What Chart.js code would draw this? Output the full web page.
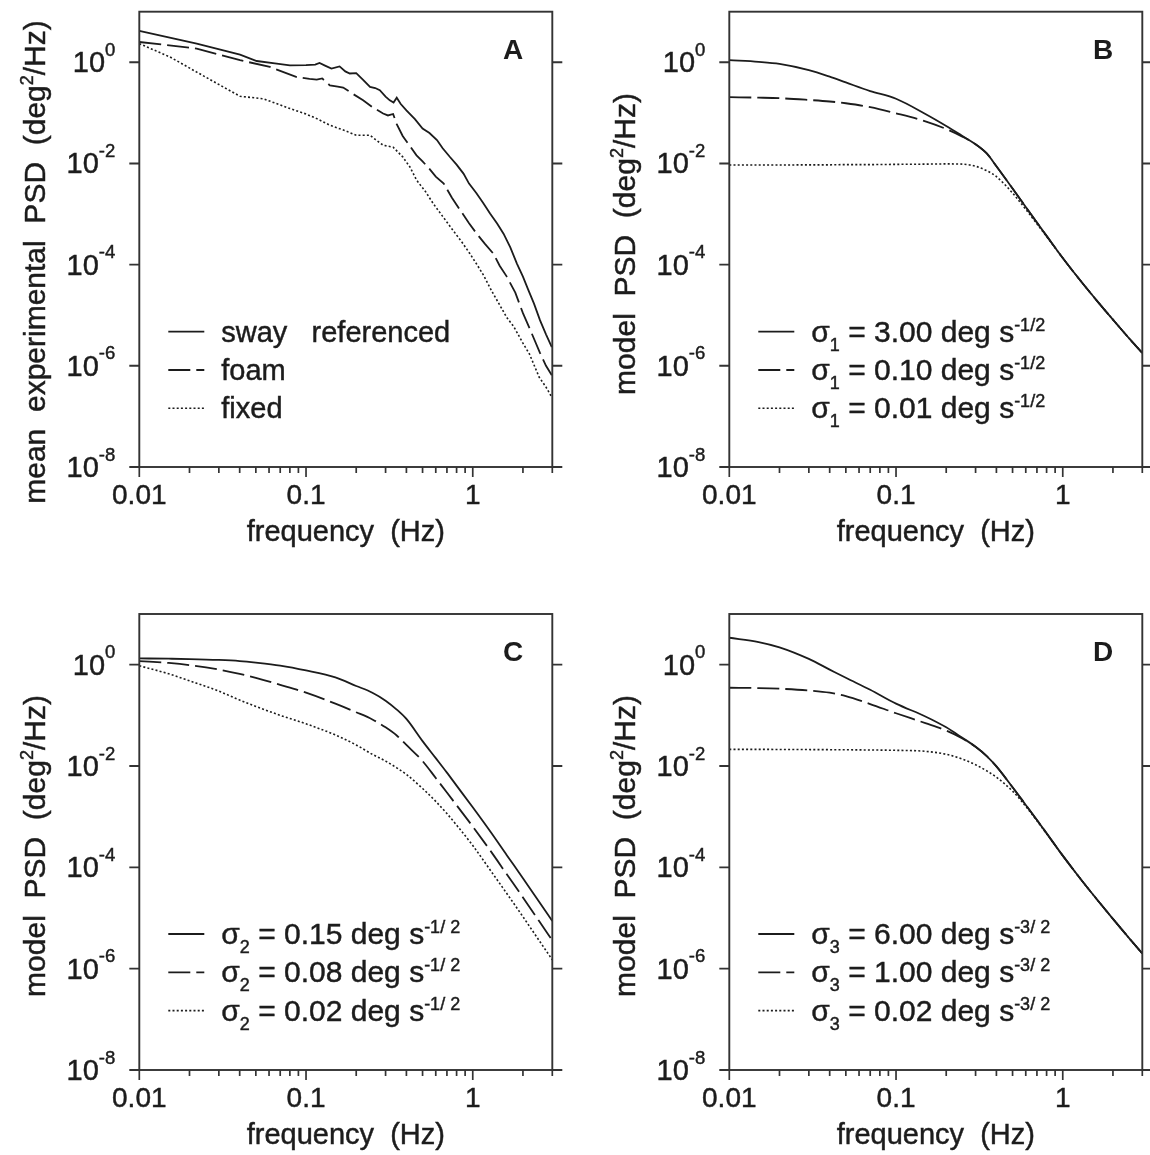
<!DOCTYPE html>
<html>
<head>
<meta charset="utf-8">
<script src="https://cdn.jsdelivr.net/npm/chart.js@4.4.0/dist/chart.umd.min.js"></script>
<style>
  body { margin: 0; background: #fff; }
  #wrap { position: relative; width: 1150px; height: 1155px; background: #fff; }
  #wrap canvas { position: absolute; left: 0; top: 0; }
</style>
</head>
<body>
<div id="wrap">
  <canvas id="chartA" width="1150" height="1155"></canvas>
  <canvas id="chartB" width="1150" height="1155"></canvas>
  <canvas id="chartC" width="1150" height="1155"></canvas>
  <canvas id="chartD" width="1150" height="1155"></canvas>
</div>
<script>
// ---- data ----
// panel A: measured spectra (Hz, deg^2/Hz)
const freqSway = [0.01, 0.0221, 0.0402, 0.0506, 0.065, 0.08, 0.1, 0.1135, 0.1205, 0.13, 0.142, 0.159, 0.172, 0.183, 0.2, 0.22, 0.242, 0.26, 0.277, 0.3, 0.318, 0.335, 0.35, 0.37, 0.4, 0.45, 0.5, 0.55, 0.61, 0.66, 0.73, 0.8, 0.88, 0.95, 1.05, 1.15, 1.27, 1.4, 1.53, 1.68, 1.84, 2.0, 2.15, 2.33, 2.53, 2.75, 2.98];
const psdSway = [4.2, 2.34, 1.42, 1.06, 0.95, 0.87, 0.88, 0.9, 0.97, 0.86, 0.75, 0.83, 0.66, 0.6, 0.61, 0.45, 0.325, 0.31, 0.28, 0.21, 0.177, 0.16, 0.2, 0.15, 0.112, 0.075, 0.049, 0.04, 0.029, 0.02, 0.0134, 0.0095, 0.0063, 0.004, 0.0026, 0.0017, 0.00103, 0.00065, 0.00041, 0.00022, 0.000105, 0.000058, 0.000032, 0.000017, 0.000008, 0.0000042, 0.00000235];
const freqFoam = [0.01, 0.0221, 0.0402, 0.0607, 0.088, 0.105, 0.116, 0.125, 0.139, 0.155, 0.167, 0.19, 0.22, 0.25, 0.29, 0.31, 0.333, 0.35, 0.38, 0.42, 0.46, 0.5, 0.55, 0.6, 0.67, 0.75, 0.84, 0.95, 1.05, 1.18, 1.33, 1.45, 1.6, 1.8, 2.0, 2.25, 2.53, 2.75, 2.98];
const psdFoam = [2.52, 1.87, 1.1, 0.81, 0.51, 0.47, 0.455, 0.48, 0.35, 0.33, 0.316, 0.24, 0.177, 0.13, 0.097, 0.089, 0.095, 0.06, 0.035, 0.022, 0.0145, 0.011, 0.0078, 0.0055, 0.004, 0.0021, 0.0012, 0.00066, 0.00042, 0.00026, 0.000165, 0.000095, 0.000058, 0.000028, 0.000011, 0.0000045, 0.0000018, 0.000001, 0.00000065];
const freqFixed = [0.01, 0.0153, 0.0221, 0.0319, 0.0402, 0.0555, 0.08, 0.1, 0.116, 0.139, 0.17, 0.2, 0.242, 0.26, 0.29, 0.333, 0.38, 0.42, 0.46, 0.52, 0.58, 0.66, 0.76, 0.86, 0.96, 1.06, 1.16, 1.3, 1.45, 1.6, 1.76, 2.0, 2.19, 2.5, 2.75, 2.98];
const psdFixed = [2.34, 1.27, 0.64, 0.325, 0.213, 0.19, 0.122, 0.095, 0.077, 0.057, 0.045, 0.036, 0.036, 0.03, 0.023, 0.021, 0.0135, 0.0085, 0.0047, 0.0028, 0.0016, 0.0009, 0.00048, 0.00028, 0.000166, 0.0001, 0.000062, 0.00003, 0.000016, 0.000009, 0.000006, 0.0000028, 0.0000017, 0.0000006, 0.00000038, 0.00000024];

// panels B-D: model spectra on one frequency grid
const modelFreq = [0.01, 0.015, 0.02, 0.03, 0.04, 0.05, 0.07, 0.1, 0.15, 0.2, 0.25, 0.3, 0.35, 0.4, 0.5, 0.6, 0.7, 0.8, 1, 1.3, 1.6, 2, 2.5, 3];
const psdB1 = [1.1, 1.02, 0.93, 0.7, 0.52, 0.4, 0.27, 0.19, 0.095, 0.055, 0.035, 0.024, 0.0158, 0.0088, 0.0032, 0.00138, 0.00068, 0.00037, 0.000135, 0.0000448, 0.0000195, 0.0000082, 0.0000035, 0.0000018];
const psdB2 = [0.205, 0.2, 0.195, 0.18, 0.168, 0.155, 0.13, 0.098, 0.068, 0.048, 0.034, 0.024, 0.0158, 0.0088, 0.0032, 0.00138, 0.00068, 0.00037, 0.000135, 0.0000448, 0.0000195, 0.0000082, 0.0000035, 0.0000018];
const psdB3 = [0.0093, 0.0093, 0.0093, 0.0094, 0.0094, 0.0095, 0.0095, 0.0096, 0.0097, 0.0098, 0.0097, 0.0088, 0.0072, 0.0055, 0.0026, 0.00124, 0.00064, 0.00036, 0.000135, 0.0000448, 0.0000195, 0.0000082, 0.0000035, 0.0000018];
const psdC1 = [1.33, 1.31, 1.29, 1.24, 1.18, 1.1, 0.96, 0.77, 0.56, 0.38, 0.28, 0.195, 0.13, 0.085, 0.031, 0.0143, 0.0074, 0.0041, 0.00153, 0.000465, 0.000174, 0.000061, 0.0000209, 0.0000087];
const psdC2 = [1.18, 1.08, 0.98, 0.8, 0.66, 0.55, 0.4, 0.28, 0.17, 0.115, 0.083, 0.058, 0.04, 0.026, 0.0125, 0.0058, 0.003, 0.00168, 0.00064, 0.000195, 0.000073, 0.0000255, 0.0000087, 0.0000036];
const psdC3 = [0.95, 0.66, 0.48, 0.3, 0.2, 0.15, 0.1, 0.068, 0.041, 0.026, 0.017, 0.0125, 0.0092, 0.0068, 0.0036, 0.002, 0.00115, 0.00068, 0.00027, 0.00008, 0.0000305, 0.0000106, 0.0000036, 0.0000015];
const psdD1 = [3.4, 2.8, 2.2, 1.3, 0.8, 0.55, 0.32, 0.17, 0.095, 0.058, 0.036, 0.024, 0.0157, 0.0098, 0.0038, 0.0017, 0.00086, 0.00047, 0.00017, 0.000055, 0.0000235, 0.0000096, 0.000004, 0.00000199];
const psdD2 = [0.35, 0.345, 0.335, 0.31, 0.28, 0.24, 0.167, 0.11, 0.07, 0.05, 0.035, 0.024, 0.0157, 0.0098, 0.0038, 0.0017, 0.00086, 0.00047, 0.00017, 0.000055, 0.0000235, 0.0000096, 0.000004, 0.00000199];
const psdD3 = [0.0213, 0.0213, 0.0212, 0.0211, 0.021, 0.0209, 0.0207, 0.0204, 0.0195, 0.017, 0.0137, 0.0106, 0.008, 0.006, 0.0032, 0.0016, 0.00083, 0.00046, 0.00017, 0.000055, 0.0000235, 0.0000096, 0.000004, 0.00000199];

// axis ticks and texts
const xMajorTicks = [0.01, 0.1, 1];
const xTickLabels = ['0.01', '0.1', '1'];
const xMinorTicks = [0.02, 0.03, 0.04, 0.05, 0.06, 0.07, 0.08, 0.09, 0.2, 0.3, 0.4, 0.5, 0.6, 0.7, 0.8, 0.9, 2, 3];
const yTickExps = [0, -2, -4, -6, -8];
const legendA = ['sway   referenced', 'foam', 'fixed'];
const sigmaB = ['3.00', '0.10', '0.01'];
const sigmaC = ['0.15', '0.08', '0.02'];
const sigmaD = ['6.00', '1.00', '0.02'];

// ---- drawing ----
const W = 1150, H = 1155;
const FONT = '"Liberation Sans", Arial, Helvetica, sans-serif';
const INK = '#1c1c1c';
const lineStyles = [
  { dash: [], width: 1.8 },
  { dash: [22, 6], width: 1.8 },
  { dash: [2, 2.2], width: 1.6 }
];

function setFont(ctx, p) {
  ctx.font = (p.bold ? 'bold ' : '') + (p.size || 30) + 'px ' + FONT;
}

// text pieces with sub/superscripts, lightly stroked to match the heavier print
function drawRich(ctx, parts, x, y, align) {
  let w = 0;
  parts.forEach(p => { setFont(ctx, p); w += ctx.measureText(p.t).width; });
  let cx = align === 'right' ? x - w : (align === 'center' ? x - w / 2 : x);
  ctx.textAlign = 'left';
  ctx.textBaseline = 'alphabetic';
  ctx.strokeStyle = INK;
  ctx.lineWidth = 0.45;
  ctx.setLineDash([]);
  parts.forEach(p => {
    setFont(ctx, p);
    ctx.fillText(p.t, cx, y + (p.dy || 0));
    if (!p.bold) ctx.strokeText(p.t, cx, y + (p.dy || 0));
    cx += ctx.measureText(p.t).width;
  });
}

function decorPlugin(cfg) {
  return {
    id: 'decor' + cfg.letter,
    afterDraw(chart) {
      const ctx = chart.ctx;
      const xs = chart.scales.x, ys = chart.scales.y;
      const a = chart.chartArea;
      ctx.save();
      ctx.fillStyle = INK;
      ctx.strokeStyle = '#333';
      ctx.lineWidth = 1.9;
      ctx.setLineDash([]);
      ctx.strokeRect(a.left, a.top, a.right - a.left, a.bottom - a.top);

      // y ticks both sides
      yTickExps.forEach(e => {
        const y = ys.getPixelForValue(Math.pow(10, e));
        ctx.strokeStyle = '#333';
        ctx.lineWidth = 1.9;
        ctx.beginPath();
        ctx.moveTo(a.left - 10, y); ctx.lineTo(a.left, y);
        ctx.moveTo(a.right, y); ctx.lineTo(a.right + 10, y);
        ctx.stroke();
        drawRich(ctx, [{ t: '10', size: 29 }, { t: String(e), size: 18.5, dy: -16.5 }], a.left - 24, y + 10, 'right');
      });

      // x ticks
      xMajorTicks.forEach((v, i) => {
        const x = xs.getPixelForValue(v);
        ctx.strokeStyle = '#333';
        ctx.lineWidth = 1.7;
        ctx.beginPath(); ctx.moveTo(x, a.bottom); ctx.lineTo(x, a.bottom + 10); ctx.stroke();
        drawRich(ctx, [{ t: xTickLabels[i], size: 28 }], x, a.bottom + 37, 'center');
      });
      ctx.strokeStyle = '#333';
      ctx.lineWidth = 1.7;
      xMinorTicks.forEach(v => {
        const x = xs.getPixelForValue(v);
        ctx.beginPath(); ctx.moveTo(x, a.bottom); ctx.lineTo(x, a.bottom + 6); ctx.stroke();
      });

      // axis titles
      drawRich(ctx, [{ t: 'frequency  (Hz)', size: 29 }], (a.left + a.right) / 2, a.bottom + 74, 'center');
      ctx.save();
      ctx.translate(a.left - 94, cfg.yTitleCenter);
      ctx.rotate(-Math.PI / 2);
      drawRich(ctx, [{ t: cfg.yTitle + '  (deg', size: 30 }, { t: '2', size: 18, dy: -12 }, { t: '/Hz)', size: 30 }], 0, 0, 'center');
      ctx.restore();

      // panel letter
      drawRich(ctx, [{ t: cfg.letter, size: 28, bold: true }], a.right - 29, a.top + 47, 'right');

      // legend
      cfg.legend.forEach((parts, i) => {
        const ly = a.top + 320 + i * 38.3;
        const st = lineStyles[i];
        ctx.lineWidth = st.width;
        ctx.strokeStyle = INK;
        ctx.setLineDash(st.dash);
        ctx.beginPath(); ctx.moveTo(a.left + 29, ly); ctx.lineTo(a.left + 65, ly); ctx.stroke();
        ctx.setLineDash([]);
        drawRich(ctx, parts, a.left + 82, ly + 10, 'left');
      });
      ctx.restore();
    }
  };
}

function sigmaLegend(sub, values, power) {
  return values.map(v => [
    { t: 'σ', size: 30 },
    { t: sub, size: 18, dy: 9 },
    { t: ' = ' + v + ' deg s', size: 30 },
    { t: power, size: 18, dy: -11 }
  ]);
}

function series(freqs, vals, i, smooth) {
  return {
    data: freqs.map((f, k) => ({ x: f, y: vals[k] })),
    borderColor: INK,
    borderWidth: lineStyles[i].width,
    borderDash: lineStyles[i].dash,
    pointRadius: 0,
    fill: false,
    tension: 0,
    cubicInterpolationMode: smooth ? 'monotone' : 'default'
  };
}

function makePanel(id, box, datasets, cfg) {
  return new Chart(document.getElementById(id), {
    type: 'line',
    data: { datasets: datasets },
    options: {
      responsive: false,
      animation: false,
      events: [],
      layout: { padding: { left: box[0], top: box[1], right: W - box[2], bottom: H - box[3] } },
      plugins: { legend: { display: false }, tooltip: { enabled: false } },
      scales: {
        x: { type: 'logarithmic', min: 0.01, max: 3, display: false },
        y: { type: 'logarithmic', min: 1e-8, max: 10, display: false }
      }
    },
    plugins: [decorPlugin(cfg)]
  });
}

makePanel('chartA', [139.3, 11.7, 552.3, 467], [
  series(freqSway, psdSway, 0, false),
  series(freqFoam, psdFoam, 1, false),
  series(freqFixed, psdFixed, 2, false)
], {
  letter: 'A', yTitle: 'mean  experimental  PSD', yTitleCenter: 262,
  legend: legendA.map(t => [{ t: t, size: 29 }])
});

makePanel('chartB', [729.3, 11.7, 1142.3, 467], [
  series(modelFreq, psdB1, 0, true),
  series(modelFreq, psdB2, 1, true),
  series(modelFreq, psdB3, 2, true)
], {
  letter: 'B', yTitle: 'model  PSD', yTitleCenter: 244,
  legend: sigmaLegend('1', sigmaB, '-1/2')
});

makePanel('chartC', [139.3, 614, 552.3, 1070], [
  series(modelFreq, psdC1, 0, true),
  series(modelFreq, psdC2, 1, true),
  series(modelFreq, psdC3, 2, true)
], {
  letter: 'C', yTitle: 'model  PSD', yTitleCenter: 846,
  legend: sigmaLegend('2', sigmaC, '-1/ 2')
});

makePanel('chartD', [729.3, 614, 1142.3, 1070], [
  series(modelFreq, psdD1, 0, true),
  series(modelFreq, psdD2, 1, true),
  series(modelFreq, psdD3, 2, true)
], {
  letter: 'D', yTitle: 'model  PSD', yTitleCenter: 846,
  legend: sigmaLegend('3', sigmaD, '-3/ 2')
});
</script>
</body>
</html>
